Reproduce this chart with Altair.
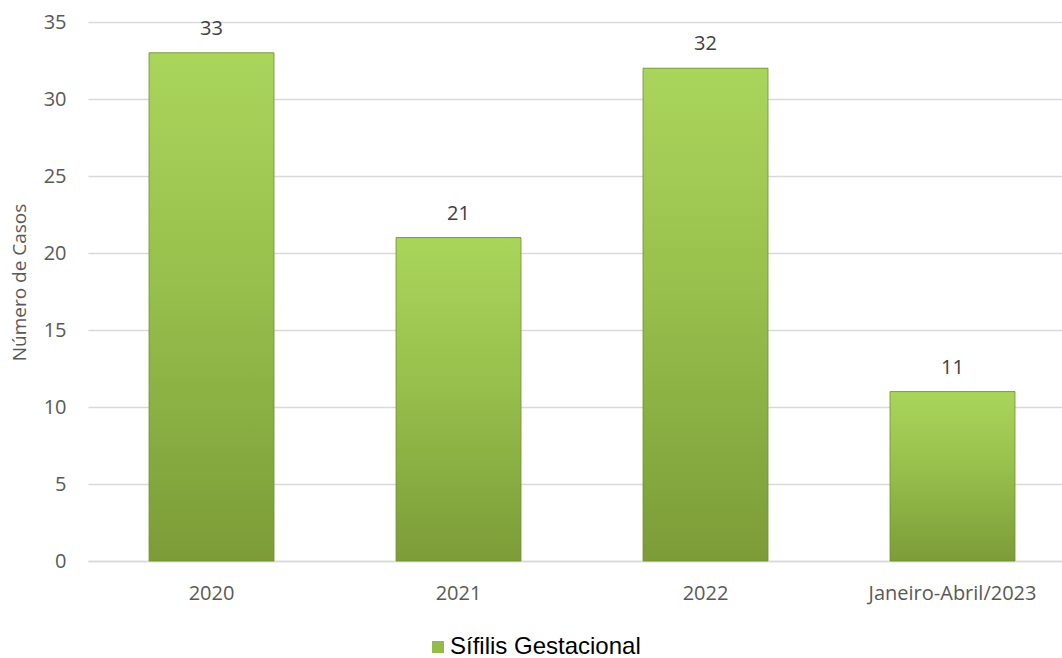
import altair as alt
import pandas as pd

categories = ["2020", "2021", "2022", "Janeiro-Abril/2023"]
values = [33, 21, 32, 11]
series_name = "Sífilis Gestacional"
y_ticks = [0, 5, 10, 15, 20, 25, 30, 35]

df = pd.DataFrame({"cat": categories, "val": values, "serie": [series_name] * len(categories)})

AXIS_FONT = "Open Sans"
AXIS_COLOR = "#595959"
GRID = "#d9d9d9"

x_enc = alt.X(
    "cat:N",
    sort=categories,
    scale=alt.Scale(paddingInner=0.494, paddingOuter=0.2187, align=0.565),
    axis=alt.Axis(
        title=None, labelAngle=0, labelFont=AXIS_FONT, labelFontSize=20,
        labelColor=AXIS_COLOR, ticks=False, labelPadding=22,
        domainColor=GRID, domainWidth=1.5,
    ),
)
y_enc = alt.Y(
    "val:Q",
    scale=alt.Scale(domain=[0, 35], nice=False),
    axis=alt.Axis(
        values=y_ticks, title="Número de Casos", titleFont=AXIS_FONT,
        titleFontSize=19, titleFontWeight="normal", titleColor=AXIS_COLOR,
        titleX=-69, titleY=260, titleBaseline="middle", titleAngle=-90,
        labelFont=AXIS_FONT, labelFontSize=20, labelColor=AXIS_COLOR,
        ticks=False, labelPadding=22, domain=False,
        gridColor=GRID, gridWidth=1.5,
    ),
)

base = alt.Chart(df)

legend_bars = base.mark_bar().encode(
    x=x_enc,
    y=y_enc,
    color=alt.Color(
        "serie:N",
        scale=alt.Scale(range=["#93bb4a"]),
        legend=alt.Legend(
            title=None, orient="none", legendX=338, legendY=613,
            symbolType="square", symbolSize=144, symbolStrokeWidth=0,
            labelFont="Liberation Sans", labelFontSize=24, labelColor="#000000",
            labelOffset=0, labelLimit=1000, padding=0,
        ),
    ),
)

gradient = alt.Gradient(
    gradient="linear",
    x1=0, x2=0, y1=0, y2=1,
    stops=[
        alt.GradientStop(color="#aad55b", offset=0),
        alt.GradientStop(color="#97c04c", offset=0.45),
        alt.GradientStop(color="#7c9c38", offset=1),
    ],
)

grad_bars = base.mark_bar(fill=gradient, stroke="#6f8f30", strokeWidth=0.8).encode(
    x=x_enc, y=y_enc
)

labels = base.mark_text(
    baseline="alphabetic", dy=-18, font=AXIS_FONT, fontSize=20, color="#404040"
).encode(x=x_enc, y=y_enc, text=alt.Text("val:Q"))

chart = alt.layer(legend_bars, grad_bars, labels).properties(
    width=974,
    height=539,
    autosize=alt.AutoSizeParams(type="none"),
    padding={"left": 88, "top": 22, "right": 0, "bottom": 97},
).configure_view(stroke=None)

chart.save("out.html", embed_options={"renderer": "svg", "actions": False})
